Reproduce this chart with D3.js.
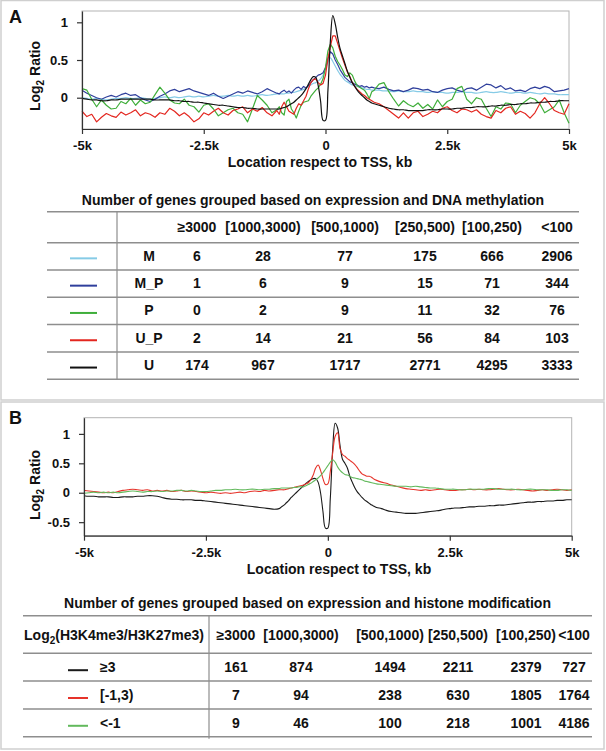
<!DOCTYPE html>
<html>
<head>
<meta charset="utf-8">
<script src="https://cdn.jsdelivr.net/npm/d3@7"></script>
<style>
body { margin: 0; background: #fff; }
text { font-family: "Liberation Sans", Arial, sans-serif; font-weight: bold; fill: #111; }
</style>
</head>
<body>
<div id="plot"></div>
<script>
// positions in kb (finer near the TSS)
const pos = [
  -5, -4.9, -4.8, -4.7, -4.6, -4.5, -4.4, -4.3, -4.2, -4.1,
  -4, -3.9, -3.8, -3.7, -3.6, -3.5, -3.4, -3.3, -3.2, -3.1,
  -3, -2.9, -2.8, -2.7, -2.6, -2.5, -2.4, -2.3, -2.2, -2.1,
  -2, -1.9, -1.8, -1.7, -1.6, -1.5, -1.4, -1.3, -1.2, -1.1,
  -1,
  -0.95, -0.9, -0.85, -0.8, -0.75, -0.7, -0.65, -0.6, -0.55, -0.5,
  -0.45, -0.4, -0.35, -0.3, -0.25, -0.2, -0.15, -0.1, -0.05, 0,
  0.05, 0.1, 0.15, 0.2, 0.25, 0.3, 0.35, 0.4, 0.45, 0.5,
  0.55, 0.6, 0.65, 0.7, 0.75, 0.8, 0.85, 0.9, 0.95,
  1, 1.1, 1.2, 1.3, 1.4, 1.5, 1.6, 1.7, 1.8, 1.9,
  2, 2.1, 2.2, 2.3, 2.4, 2.5, 2.6, 2.7, 2.8, 2.9,
  3, 3.1, 3.2, 3.3, 3.4, 3.5, 3.6, 3.7, 3.8, 3.9,
  4, 4.1, 4.2, 4.3, 4.4, 4.5, 4.6, 4.7, 4.8, 4.9,
  5
];
const xTicks = [-5, -2.5, 0, 2.5, 5];

// panel A: DNA methylation groups
const mA = [
  0, -0.01, -0.02, -0.01, -0.02, -0.03, -0.02, -0.01, -0.01, 0,
  -0.01, -0.01, 0, -0.01, -0.02, -0.01, 0, 0.01, 0, 0.01,
  0, 0.01, 0.02, 0.01, 0.02, 0.01, 0.02, 0.03, 0.02, 0.02,
  0.03, 0.02, 0.03, 0.02, 0.03, 0.02, 0.03, 0.04, 0.03, 0.04,
  0.05,
  0.05, 0.05, 0.05, 0.06, 0.06, 0.07, 0.07, 0.08, 0.09, 0.1,
  0.11, 0.13, 0.15, 0.17, 0.19, 0.2, 0.22, 0.25, 0.3, 0.38,
  0.47, 0.53, 0.48, 0.42, 0.36, 0.31, 0.27, 0.23, 0.21, 0.19,
  0.17, 0.16, 0.15, 0.14, 0.13, 0.12, 0.11, 0.11, 0.1,
  0.1, 0.1, 0.09, 0.09, 0.08, 0.09, 0.08, 0.08, 0.09, 0.08,
  0.08, 0.07, 0.08, 0.07, 0.07, 0.06, 0.07, 0.07, 0.08, 0.07,
  0.07, 0.06, 0.07, 0.08, 0.07, 0.07, 0.08, 0.07, 0.06, 0.07,
  0.07, 0.06, 0.07, 0.06, 0.05, 0.06, 0.05, 0.05, 0.04, 0.04,
  0.04
];
const mpA = [
  0.1, 0.06, 0.03, 0, -0.02, 0.01, 0.03, 0.01, 0.04, 0.06,
  0.03, 0.04, 0, -0.03, -0.05, -0.02, 0.02, 0.05, 0.09, 0.11,
  0.08, 0.1, 0.12, 0.09, 0.07, 0.05, 0.03, 0.06, 0.02, -0.01,
  0.02, 0.05, 0.08, 0.06, 0.09, 0.07, 0.05, 0.08, 0.12, 0.09,
  0.06,
  0.05, 0.08, 0.1, 0.07, 0.09, 0.06, 0.1, 0.13, 0.14, 0.11,
  0.15, 0.13, 0.16, 0.2, 0.24, 0.27, 0.3, 0.31, 0.33, 0.4,
  0.52, 0.61, 0.58, 0.5, 0.44, 0.37, 0.32, 0.27, 0.24, 0.21,
  0.2, 0.18, 0.17, 0.15, 0.16, 0.14, 0.15, 0.13, 0.14,
  0.13, 0.12, 0.14, 0.11, 0.09, 0.1, 0.08, 0.1, 0.13, 0.12,
  0.1, 0.11, 0.08, 0.07, 0.1, 0.12, 0.13, 0.1, 0.08, 0.12,
  0.13, 0.1, 0.14, 0.18, 0.17, 0.13, 0.16, 0.11, 0.13, 0.09,
  0.1, 0.08, 0.12, 0.14, 0.12, 0.15, 0.13, 0.08, 0.09, 0.1,
  0.12
];
const pA = [
  0.12, 0.1, -0.02, -0.12, -0.03, -0.1, -0.15, -0.14, -0.05, -0.08,
  -0.01, -0.1, -0.03, -0.08, -0.06, 0.04, 0.14, 0.06, -0.03, -0.07,
  -0.08, -0.02, -0.1, -0.12, -0.19, -0.1, -0.08, -0.15, -0.24, -0.2,
  -0.16, -0.14, -0.2, -0.22, -0.32, -0.15, 0.03, -0.03, -0.1, -0.2,
  -0.16,
  -0.12, -0.2, -0.23, -0.05, -0.02, -0.15, -0.2, -0.27, -0.18, -0.1,
  -0.06, -0.05, -0.04, 0.02, 0.06, 0.1, 0.13, 0.18, 0.25, 0.4,
  0.62, 0.71, 0.66, 0.55, 0.48, 0.43, 0.37, 0.3, 0.28, 0.33,
  0.3, 0.22, 0.16, 0.14, 0.12, 0.1, 0.05, -0.01, 0.08,
  0.1, 0.18, 0.2, 0.08, -0.02, -0.11, -0.04, -0.09, -0.12, -0.07,
  -0.14, -0.09, -0.15, -0.03, -0.12, -0.05, -0.02, 0.12, 0.15, -0.02,
  -0.08, 0, -0.02, -0.14, -0.25, -0.12, -0.15, -0.07, -0.08, -0.2,
  -0.1, -0.05, 0, -0.02, -0.08, -0.2, -0.16, -0.12, -0.03, -0.2,
  -0.34
];
const upA = [
  -0.18, -0.25, -0.22, -0.32, -0.26, -0.21, -0.24, -0.26, -0.19, -0.23,
  -0.2, -0.16, -0.24, -0.2, -0.22, -0.26, -0.2, -0.22, -0.14, -0.18,
  -0.24, -0.2, -0.25, -0.32, -0.28, -0.2, -0.23, -0.18, -0.14, -0.2,
  -0.23, -0.17, -0.15, -0.12, -0.2, -0.15, -0.18, -0.13, -0.2, -0.24,
  -0.17,
  -0.22, -0.12, -0.06, -0.12, -0.18, -0.2, -0.22, -0.14, -0.08, -0.1,
  -0.04, 0.02, 0.12, 0.2, 0.24, 0.25, 0.2, 0.17, 0.19, 0.3,
  0.52, 0.68, 0.82, 0.82, 0.72, 0.62, 0.52, 0.43, 0.34, 0.28,
  0.2, 0.15, 0.11, 0.08, 0.05, 0.03, 0, -0.02, -0.04,
  -0.06, -0.08, -0.12, -0.17, -0.22, -0.27, -0.2, -0.27, -0.2, -0.18,
  -0.25, -0.22, -0.18, -0.2, -0.14, -0.12, -0.17, -0.2, -0.15, -0.16,
  -0.19, -0.16, -0.22, -0.25, -0.27, -0.17, -0.2, -0.14, -0.12, -0.22,
  -0.18, -0.21, -0.27, -0.2, -0.08, 0, -0.08, -0.17, -0.2, -0.22,
  -0.08
];
const uA = [
  -0.01, -0.02, -0.03, -0.03, -0.04, -0.04, -0.03, -0.03, -0.02, -0.02,
  -0.02, -0.02, -0.02, -0.02, -0.02, -0.03, -0.03, -0.03, -0.03, -0.04,
  -0.04, -0.05, -0.05, -0.06, -0.06, -0.07, -0.08, -0.09, -0.1, -0.1,
  -0.11, -0.12, -0.13, -0.13, -0.14, -0.14, -0.15, -0.15, -0.15, -0.15,
  -0.15,
  -0.15, -0.14, -0.13, -0.12, -0.1, -0.08, -0.06, -0.03, 0, 0.03,
  0.07, 0.12, 0.18, 0.24, 0.28, 0.27, 0.16, -0.05, -0.3, -0.3,
  0.1, 0.75, 1.09, 0.98, 0.8, 0.65, 0.55, 0.45, 0.35, 0.27,
  0.2, 0.15, 0.1, 0.06, 0.03, 0, -0.03, -0.05, -0.07,
  -0.08, -0.1, -0.12, -0.14, -0.15, -0.16, -0.16, -0.17, -0.17, -0.17,
  -0.17, -0.16, -0.16, -0.16, -0.15, -0.15, -0.15, -0.14, -0.14, -0.13,
  -0.13, -0.12, -0.12, -0.12, -0.11, -0.11, -0.1, -0.1, -0.09, -0.09,
  -0.08, -0.08, -0.07, -0.07, -0.06, -0.06, -0.05, -0.05, -0.04, -0.04,
  -0.04
];

// panel B: histone modification groups
const hiB = [
  -0.05, -0.06, -0.06, -0.07, -0.07, -0.07, -0.08, -0.08, -0.07, -0.07,
  -0.07, -0.06, -0.06, -0.05, -0.05, -0.06, -0.08, -0.1, -0.11, -0.11,
  -0.12, -0.12, -0.12, -0.13, -0.13, -0.14, -0.15, -0.16, -0.17, -0.18,
  -0.19, -0.2, -0.21, -0.22, -0.23, -0.24, -0.25, -0.26, -0.27, -0.28,
  -0.27,
  -0.24, -0.21, -0.17, -0.13, -0.08, -0.04, 0, 0.04, 0.08, 0.12,
  0.16, 0.19, 0.22, 0.24, 0.24, 0.18, 0, -0.32, -0.6, -0.6,
  -0.1, 0.75, 1.18, 1.1, 0.8, 0.57, 0.5, 0.42, 0.28, 0.18,
  0.09, 0.02, -0.03, -0.08, -0.12, -0.15, -0.18, -0.21, -0.23,
  -0.25, -0.27, -0.3, -0.32, -0.33, -0.34, -0.35, -0.35, -0.35, -0.34,
  -0.33, -0.32, -0.31, -0.3, -0.28, -0.27, -0.26, -0.26, -0.25, -0.24,
  -0.24, -0.23, -0.23, -0.22, -0.22, -0.21, -0.21, -0.2, -0.19, -0.18,
  -0.17, -0.16, -0.16, -0.15, -0.15, -0.14, -0.14, -0.13, -0.13, -0.12,
  -0.12
];
const midB = [
  0.04, 0.03, 0.02, 0.01, 0, 0.01, 0, 0.02, 0.04, 0.05,
  0.06, 0.05, 0.04, 0.05, 0.03, 0.04, 0.03, 0.04, 0.02, 0.03,
  0.04, 0.02, 0.03, 0.02, 0.01, 0, 0.01, 0, -0.01, 0,
  -0.01, 0, 0.01, 0, 0.02, 0.03, 0.02, 0.04, 0.03, 0.04,
  0.05,
  0.05, 0.05, 0.06, 0.07, 0.08, 0.09, 0.1, 0.11, 0.12, 0.13,
  0.15, 0.17, 0.22, 0.3, 0.42, 0.47, 0.38, 0.24, 0.14, 0.15,
  0.36, 0.68, 0.96, 1.02, 0.75, 0.65, 0.62, 0.58, 0.55, 0.52,
  0.48, 0.43, 0.37, 0.32, 0.3, 0.28, 0.28, 0.26, 0.23,
  0.21, 0.18, 0.16, 0.13, 0.11, 0.09, 0.07, 0.06, 0.05, 0.04,
  0.05, 0.04, 0.05, 0.06, 0.05, 0.04, 0.04, 0.05, 0.05, 0.06,
  0.05, 0.06, 0.05, 0.05, 0.06, 0.07, 0.06, 0.05, 0.05, 0.06,
  0.05, 0.04, 0.03, 0.04, 0.05, 0.04, 0.05, 0.06, 0.05, 0.04,
  0.05
];
const lowB = [
  -0.01, 0, 0.01, 0, 0.01, 0, 0.01, 0, 0.01, 0.02,
  0.03, 0.02, 0.01, 0.02, 0.02, 0.03, 0.02, 0.03, 0.03, 0.04,
  0.04, 0.03, 0.04, 0.03, 0.02, 0.02, 0.03, 0.04, 0.04, 0.05,
  0.05, 0.06, 0.05, 0.05, 0.06, 0.06, 0.05, 0.06, 0.06, 0.07,
  0.07,
  0.08, 0.08, 0.08, 0.08, 0.08, 0.09, 0.09, 0.1, 0.1, 0.1,
  0.12, 0.14, 0.16, 0.19, 0.22, 0.25, 0.29, 0.34, 0.4, 0.46,
  0.52, 0.56, 0.52, 0.44, 0.38, 0.34, 0.31, 0.3, 0.28, 0.26,
  0.25, 0.24, 0.23, 0.22, 0.2, 0.19, 0.18, 0.17, 0.16,
  0.15, 0.14, 0.13, 0.12, 0.11, 0.11, 0.11, 0.1, 0.11, 0.1,
  0.09, 0.08, 0.08, 0.07, 0.06, 0.06, 0.06, 0.05, 0.05, 0.06,
  0.06, 0.06, 0.06, 0.07, 0.07, 0.06, 0.06, 0.06, 0.06, 0.05,
  0.05, 0.06, 0.06, 0.05, 0.05, 0.05, 0.04, 0.04, 0.05, 0.05,
  0.04
];

// tables
const expCols = ["≥3000", "[1000,3000)", "[500,1000)", "[250,500)", "[100,250)", "<100"];
const methRows = ["M", "M_P", "P", "U_P", "U"];
const countsM = [6, 28, 77, 175, 666, 2906];
const countsMP = [1, 6, 9, 15, 71, 344];
const countsP = [0, 2, 9, 11, 32, 76];
const countsUP = [2, 14, 21, 56, 84, 103];
const countsU = [174, 967, 1717, 2771, 4295, 3333];
const histRows = ["≥3", "[-1,3)", "<-1"];
const countsHi = [161, 874, 1494, 2211, 2379, 727];
const countsMid = [7, 94, 238, 630, 1805, 1764];
const countsLow = [9, 46, 100, 218, 1001, 4186];

const colorsA = ["#86cbe6", "#2f3f9c", "#3fae3a", "#e3261f", "#111111"];
const colorsB = ["#1a1a1a", "#e6332a", "#62b95c"];

const FONT = '"Liberation Sans", Arial, sans-serif';
const w = 606;
const h = 751;

const svg = d3.select("div#plot")
  .append("svg")
  .attr("width", w)
  .attr("height", h);

svg.append("rect")
  .attr("x", 0).attr("y", 0)
  .attr("width", w).attr("height", h)
  .attr("fill", "white");

// panel frames
svg.append("rect").attr("x", 1).attr("y", 0.5).attr("width", 603).attr("height", 399.5)
  .attr("fill", "none").attr("stroke", "#cfcfcf").attr("stroke-width", 1.5);
svg.append("rect").attr("x", 1).attr("y", 402).attr("width", 603).attr("height", 347)
  .attr("fill", "none").attr("stroke", "#cfcfcf").attr("stroke-width", 1.5);

const smooth = d3.curveCatmullRom.alpha(0.5);

function drawChart(p) {
  const x = d3.scaleLinear().domain([-5, 5]).range([p.left, p.right]);
  const y = d3.scaleLinear().domain(p.yDomain).range([p.bottom, p.top]);

  svg.append("rect")
    .attr("x", p.left).attr("y", p.top)
    .attr("width", p.right - p.left).attr("height", p.bottom - p.top)
    .attr("fill", "none").attr("stroke", "#b4b4b4").attr("stroke-width", 1);

  p.series.forEach((s, j) => {
    const line = d3.line()
      .x((d, i) => x(pos[i]))
      .y(d => y(d))
      .curve(p.curves[j]);
    svg.append("path")
      .datum(s)
      .attr("d", line)
      .attr("fill", "none")
      .attr("stroke", p.colors[j])
      .attr("stroke-width", p.lw)
      .attr("stroke-linejoin", "round");
  });

  const gx = svg.append("g")
    .attr("transform", `translate(0, ${p.bottom})`)
    .call(d3.axisBottom(x).tickValues(xTicks)
      .tickFormat(d => d === 0 ? "0" : d + "k")
      .tickSize(5).tickSizeOuter(0).tickPadding(7));
  const gy = svg.append("g")
    .attr("transform", `translate(${p.left}, 0)`)
    .call(d3.axisLeft(y).tickValues(p.yTicks)
      .tickFormat(d => d)
      .tickSize(5).tickSizeOuter(0).tickPadding(9));
  [gx, gy].forEach(g => {
    g.attr("font-family", FONT).attr("font-size", 13).attr("font-weight", "bold");
    g.select(".domain").attr("stroke", "#333").attr("stroke-width", 1.2);
    g.selectAll(".tick line").attr("stroke", "#333").attr("stroke-width", 1.2);
    g.selectAll(".tick text").attr("fill", "#111");
  });

  svg.append("text")
    .attr("x", p.xTitleX).attr("y", p.xTitleY)
    .attr("text-anchor", "middle").attr("font-size", 14)
    .text("Location respect to TSS, kb");

  const yt = svg.append("text")
    .attr("transform", `translate(40, ${p.yTitleY}) rotate(-90)`)
    .attr("text-anchor", "middle").attr("font-size", 14);
  yt.append("tspan").text("Log");
  yt.append("tspan").attr("font-size", 10).attr("dy", 4).text("2");
  yt.append("tspan").attr("dy", -4).text(" Ratio");

  svg.append("text")
    .attr("x", 9).attr("y", p.labelY)
    .attr("font-size", 18)
    .text(p.label);
}

drawChart({
  label: "A", labelY: 23,
  left: 82, right: 569, top: 11, bottom: 129,
  yDomain: [-0.415, 1.15], yTicks: [0, 0.5, 1],
  series: [mA, mpA, pA, upA, uA], colors: colorsA, lw: 1.2,
  curves: [smooth, d3.curveLinear, d3.curveLinear, d3.curveLinear, smooth],
  xTitleX: 320, xTitleY: 167, yTitleY: 76
});

drawChart({
  label: "B", labelY: 424,
  left: 84, right: 571.7, top: 417.7, bottom: 535.7,
  yDomain: [-0.73, 1.275], yTicks: [-0.5, 0, 0.5, 1],
  series: [hiB, midB, lowB], colors: colorsB, lw: 1.1,
  curves: [smooth, smooth, smooth],
  xTitleX: 339, xTitleY: 574, yTitleY: 485
});

function hline(x1, x2, yy) {
  svg.append("line")
    .attr("x1", x1).attr("x2", x2).attr("y1", yy).attr("y2", yy)
    .attr("stroke", "#8e8e8e").attr("stroke-width", 1.5);
}

// table A
const tA = {top: 211.7, head: 31, rowH: 27.3, x1: 47, x2: 579, divX: 117,
  cols: [197, 263, 345, 425, 492, 557]};
const rowsA = [countsM, countsMP, countsP, countsUP, countsU];

svg.append("text").attr("x", 313).attr("y", 205)
  .attr("text-anchor", "middle").attr("font-size", 14)
  .text("Number of genes grouped based on expression and DNA methylation");

hline(tA.x1, tA.x2, tA.top);
for (let i = 0; i <= rowsA.length; i++) hline(tA.x1, tA.x2, tA.top + tA.head + i * tA.rowH);
svg.append("line")
  .attr("x1", tA.divX).attr("x2", tA.divX)
  .attr("y1", tA.top).attr("y2", tA.top + tA.head + rowsA.length * tA.rowH)
  .attr("stroke", "#8e8e8e").attr("stroke-width", 1.2);

expCols.forEach((c, j) => {
  svg.append("text").attr("x", tA.cols[j]).attr("y", tA.top + tA.head / 2 + 5)
    .attr("text-anchor", "middle").attr("font-size", 14).text(c);
});

rowsA.forEach((vals, i) => {
  const cy = tA.top + tA.head + i * tA.rowH + tA.rowH / 2;
  svg.append("line")
    .attr("x1", 70).attr("x2", 97).attr("y1", cy + 2).attr("y2", cy + 2)
    .attr("stroke", colorsA[i]).attr("stroke-width", 2);
  svg.append("text").attr("x", 149).attr("y", cy + 4.5)
    .attr("text-anchor", "middle").attr("font-size", 14).text(methRows[i]);
  vals.forEach((v, j) => {
    svg.append("text").attr("x", tA.cols[j]).attr("y", cy + 4.5)
      .attr("text-anchor", "middle").attr("font-size", 14).text(v);
  });
});

// table B
const tB = {top: 615.7, head: 37.6, rowH: 27.8, x1: 23, x2: 592, divX: 209,
  cols: [236, 301, 390, 458, 526, 574]};
const rowsB = [countsHi, countsMid, countsLow];

svg.append("text").attr("x", 307.5).attr("y", 608)
  .attr("text-anchor", "middle").attr("font-size", 14)
  .text("Number of genes grouped based on expression and histone modification");

hline(tB.x1, tB.x2, tB.top);
for (let i = 0; i <= rowsB.length; i++) hline(tB.x1, tB.x2, tB.top + tB.head + i * tB.rowH);
svg.append("line")
  .attr("x1", tB.divX).attr("x2", tB.divX)
  .attr("y1", tB.top).attr("y2", tB.top + tB.head + rowsB.length * tB.rowH + 2)
  .attr("stroke", "#8e8e8e").attr("stroke-width", 1.2);

const hb = svg.append("text").attr("x", 114).attr("y", tB.top + tB.head / 2 + 5)
  .attr("text-anchor", "middle").attr("font-size", 14);
hb.append("tspan").text("Log");
hb.append("tspan").attr("font-size", 10).attr("dy", 4).text("2");
hb.append("tspan").attr("dy", -4).text("(H3K4me3/H3K27me3)");

expCols.forEach((c, j) => {
  svg.append("text").attr("x", tB.cols[j]).attr("y", tB.top + tB.head / 2 + 5)
    .attr("text-anchor", "middle").attr("font-size", 14).text(c);
});

rowsB.forEach((vals, i) => {
  const cy = tB.top + tB.head + i * tB.rowH + tB.rowH / 2;
  svg.append("line")
    .attr("x1", 68).attr("x2", 88).attr("y1", cy + 3).attr("y2", cy + 3)
    .attr("stroke", colorsB[i]).attr("stroke-width", 2);
  svg.append("text").attr("x", 100).attr("y", cy + 5)
    .attr("font-size", 14).text(histRows[i]);
  vals.forEach((v, j) => {
    svg.append("text").attr("x", tB.cols[j]).attr("y", cy + 5)
      .attr("text-anchor", "middle").attr("font-size", 14).text(v);
  });
});
</script>
</body>
</html>
